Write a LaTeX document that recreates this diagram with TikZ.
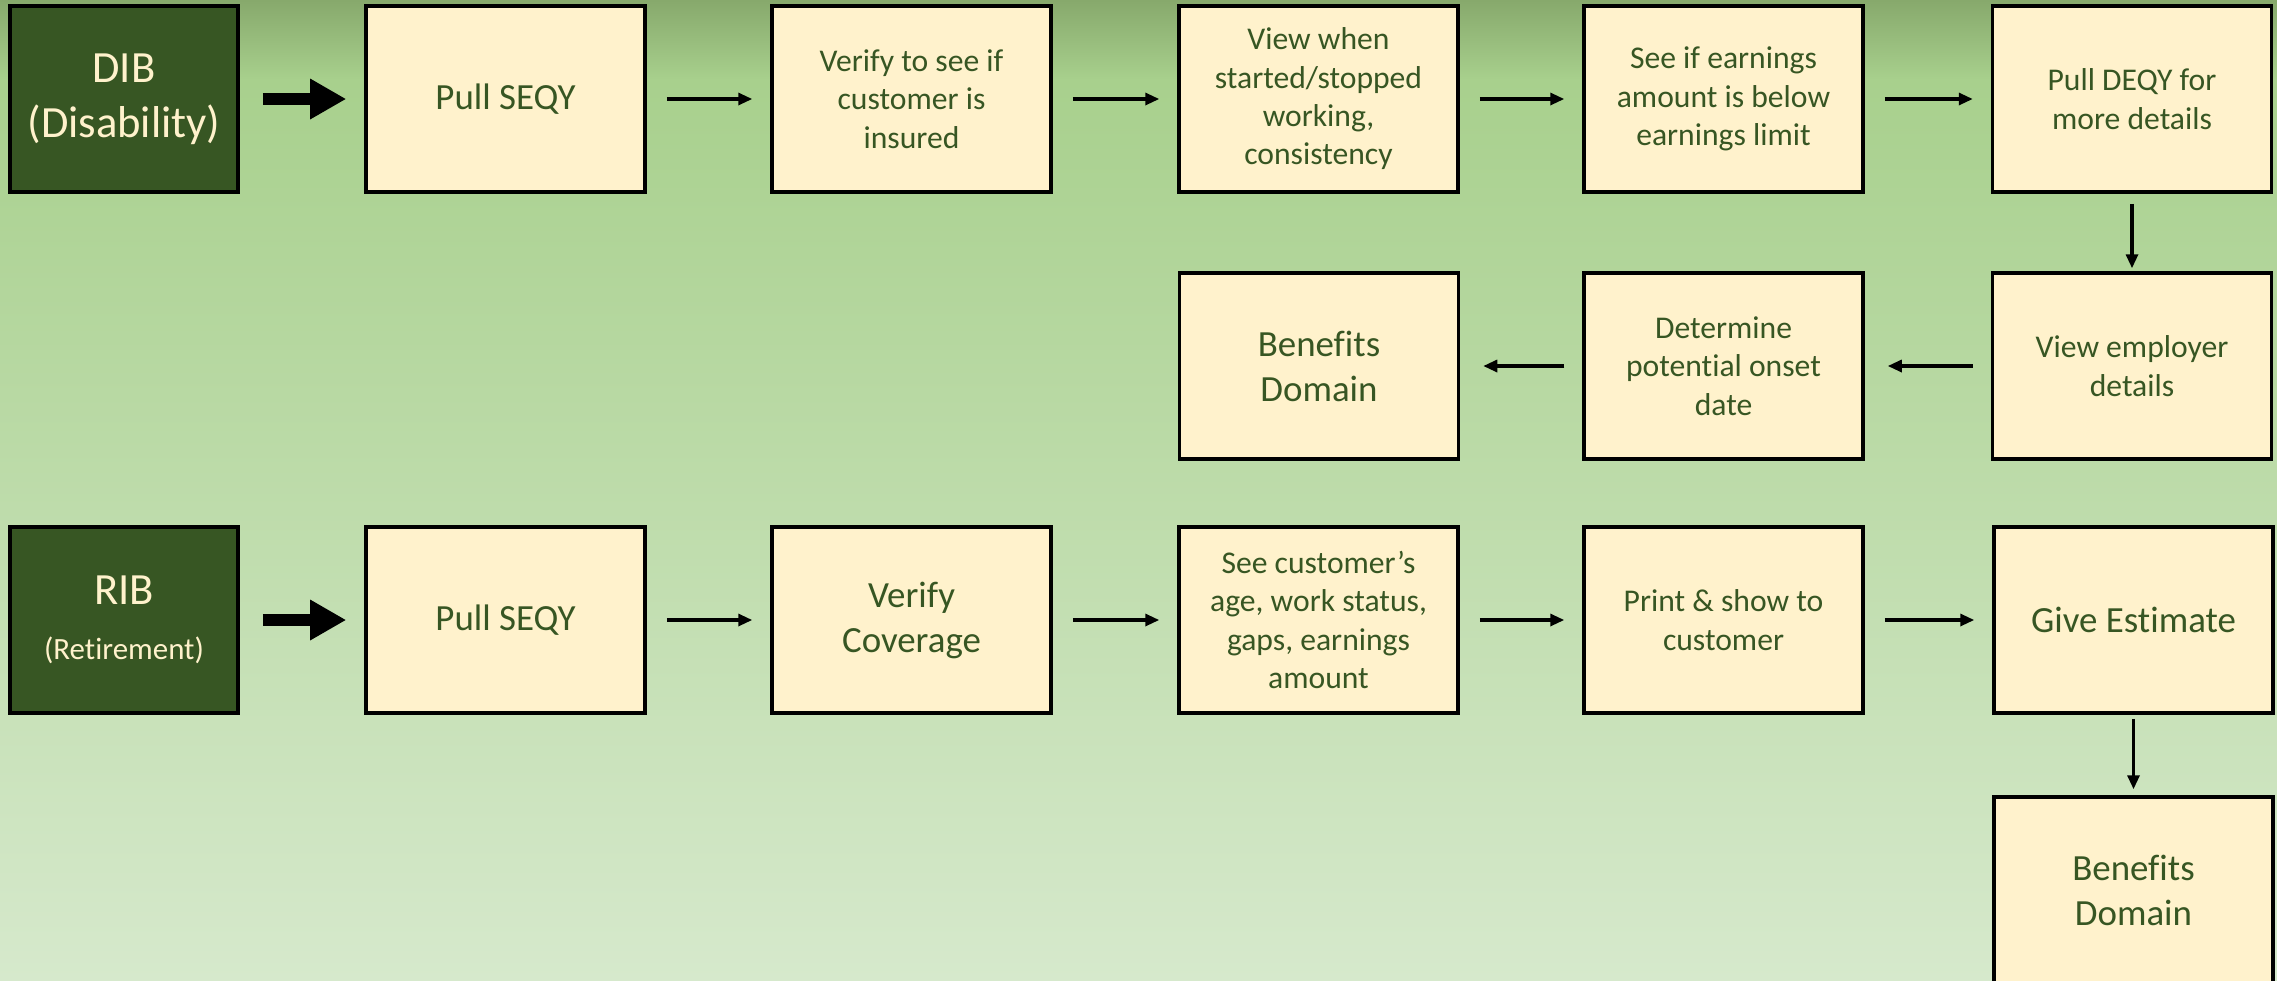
\documentclass[tikz,border=0pt]{standalone}
\usepackage{fontspec}
\setmainfont{Carlito}[Ligatures=NoCommon]
\usetikzlibrary{arrows.meta}
\usetikzlibrary{positioning}
\definecolor{bgtop}{HTML}{87A96C}
\definecolor{bgmid}{HTML}{A8D08D}
\definecolor{bgbot}{HTML}{D6E9CC}
\definecolor{boxfill}{HTML}{FFF2CC}
\definecolor{darkgrn}{HTML}{375623}

\begin{document}
\begin{tikzpicture}[
    font=\fontsize{9}{10.9}\selectfont
]
\tikzset{
    stepbox/.style = {rectangle, draw=black, line width=1pt, fill=boxfill,
        text=darkgrn, align=center, minimum width=2.79cm, minimum height=1.86cm},
    bigbox/.style = {stepbox, font=\fontsize{10.5}{12.8}\selectfont},
    headbox/.style = {rectangle, draw=black, line width=1pt, fill=darkgrn,
        text=boxfill, align=center, minimum width=2.28cm, minimum height=1.86cm,
        font=\fontsize{12.7}{15.7}\selectfont},
    edgen/.style = {-{Triangle[length=0.14cm,width=0.12cm]}, line width=0.9pt,
        shorten <=0.2cm, shorten >=0.18cm},
    edgeb/.style = {-{Triangle[length=0.36cm,width=0.38cm]}, line width=0.12cm,
        shorten <=0.23cm, shorten >=0.18cm}
}
\useasboundingbox (0,0) rectangle (22.77,9.8);
% background
\shade[top color=bgtop, bottom color=bgmid] (0,9.0) rectangle (22.77,9.8);
\shade[top color=bgmid, bottom color=bgbot] (0,0) rectangle (22.77,9.0);

% disability row
\node[headbox] at (1.24,8.81) (dib) {DIB\\(Disability)};
\node[bigbox]  at (5.055,8.81) (dseqy) {Pull SEQY};
\node[stepbox] at (9.115,8.81) (dins) {Verify to see if\\customer is\\insured};
\node[stepbox] at (13.185,8.81) (dwork) {View when\\started/stopped\\working,\\consistency};
\node[stepbox] at (17.235,8.81) (dearn) {See if earnings\\amount is below\\earnings limit};
\node[stepbox] at (21.32,8.81) (ddeqy) {Pull DEQY for\\more details};
\node[stepbox] at (21.32,6.14) (demp) {View employer\\details};
\node[stepbox] at (17.235,6.14) (donset) {Determine\\potential onset\\date};
\node[bigbox]  at (13.19,6.14) (dben) {Benefits\\Domain};

% retirement row
\node[headbox] at (1.24,3.60) (rib) {RIB\\{\fontsize{8.8}{10}\selectfont(Retirement)}};
\node[bigbox]  at (5.055,3.60) (rseqy) {Pull SEQY};
\node[bigbox]  at (9.115,3.60) (rcov) {Verify\\Coverage};
\node[stepbox] at (13.185,3.60) (rage) {See customer’s\\age, work status,\\gaps, earnings\\amount};
\node[stepbox] at (17.235,3.60) (rprint) {Print \& show to\\customer};
\node[bigbox]  at (21.335,3.60) (rest) {Give Estimate};
\node[bigbox]  at (21.335,0.90) (rben) {Benefits\\Domain};

\draw[edgeb] (dib) edge (dseqy);
\draw[edgen] (dseqy) edge (dins);
\draw[edgen] (dins) edge (dwork);
\draw[edgen] (dwork) edge (dearn);
\draw[edgen] (dearn) edge (ddeqy);
\draw[edgen, shorten <=0.1cm, shorten >=0.03cm] (ddeqy) edge (demp);
\draw[edgen, shorten <=0.18cm, shorten >=0.23cm] (demp) edge (donset);
\draw[edgen, shorten <=0.18cm, shorten >=0.23cm] (donset) edge (dben);

\draw[edgeb] (rib) edge (rseqy);
\draw[edgen] (rseqy) edge (rcov);
\draw[edgen] (rcov) edge (rage);
\draw[edgen] (rage) edge (rprint);
\draw[edgen] (rprint) edge (rest);
\draw[edgen, shorten <=0.04cm, shorten >=0.06cm] (rest) edge (rben);
\end{tikzpicture}
\end{document}
